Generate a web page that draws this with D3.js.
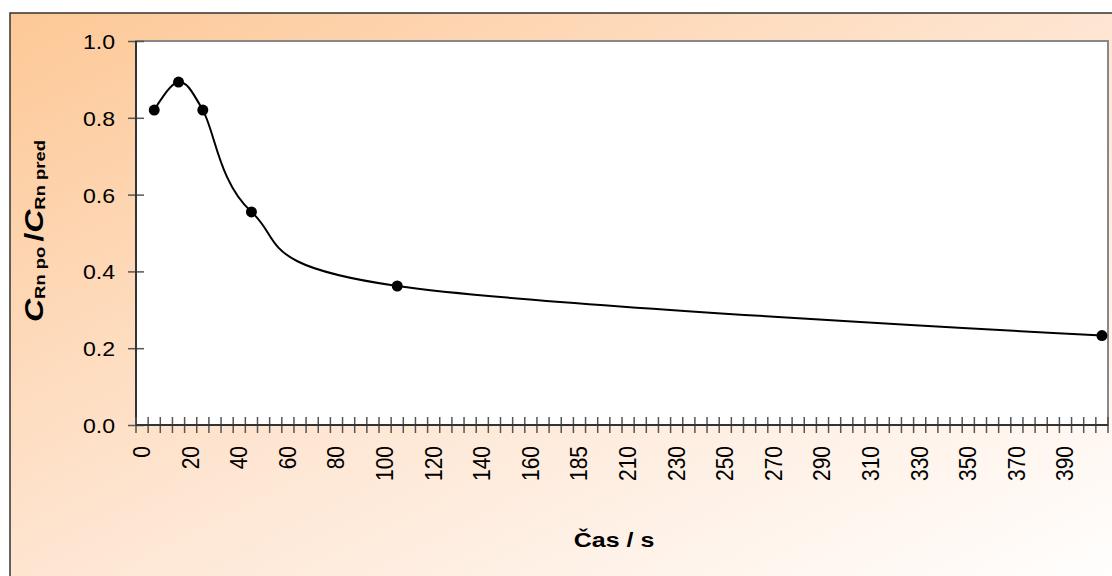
<!DOCTYPE html>
<html>
<head>
<meta charset="utf-8">
<script src="https://cdn.jsdelivr.net/npm/d3@7"></script>
<style>
	body { margin: 0; background: #fff; }
	svg { display: block; font-family: "Liberation Sans", Arial, sans-serif; }
</style>
</head>
<body>
<svg id="chart" width="1112" height="576"></svg>
<script>
// categories on the x axis (one per 5 s, a few steps are skipped in the source sheet)
var categories = [0,5,10,15,20,25,30,35,40,45,50,55,60,65,70,75,80,85,90,95,100,
	105,110,115,120,125,130,135,140,145,150,155,160,165,170,175,185,190,195,200,
	210,215,220,225,230,235,240,245,250,255,260,265,270,275,280,285,290,295,300,
	305,310,315,320,325,330,335,340,345,350,355,360,365,370,375,380,385,390,395,400,405];
// measured points
var times = [5, 15, 25, 45, 105, 405];
var ratios = [0.82, 0.893, 0.82, 0.555, 0.362, 0.233];
var yTicks = [0, 0.2, 0.4, 0.6, 0.8, 1.0];

var svg = d3.select("#chart"),
	plotL = 136, plotR = 1108, plotT = 41, plotB = 425;

var x = d3.scaleBand()
	.domain(categories)
	.range([plotL, plotR])
	.padding(0);
var y = d3.scaleLinear()
	.domain([0, 1])
	.range([plotB, plotT]);

//background panel with diagonal gradient
var grad = svg.append("defs").append("linearGradient")
	.attr("id", "bg")
	.attr("x1", 0).attr("y1", 0)
	.attr("x2", 1).attr("y2", 1);
grad.append("stop").attr("offset", 0).attr("stop-color", "#fdc896");
grad.append("stop").attr("offset", 0.5).attr("stop-color", "#fee6d3");
grad.append("stop").attr("offset", 1).attr("stop-color", "#ffffff");

svg.append("rect")
	.attr("x", 10).attr("y", 13)
	.attr("width", 1125).attr("height", 580)
	.attr("fill", "url(#bg)")
	.attr("stroke", "#333")
	.attr("stroke-width", 1.5);

//plot area
svg.append("rect")
	.attr("x", plotL).attr("y", plotT)
	.attr("width", plotR - plotL).attr("height", plotB - plotT)
	.attr("fill", "#fff")
	.attr("stroke", "#888")
	.attr("stroke-width", 2);

//y axis
var yAxis = svg.append("g")
	.attr("transform", "translate(" + plotL + ",0)")
	.call(d3.axisLeft(y)
		.tickValues(yTicks)
		.tickSize(0)
		.tickFormat(d3.format(".1f")));
yAxis.select(".domain").remove();
yAxis.selectAll(".tick line").remove();
yAxis.selectAll(".tick").append("line")
	.attr("x1", -8).attr("x2", 8)
	.attr("stroke", "#555")
	.attr("stroke-width", 1.5);
yAxis.selectAll(".tick text")
	.attr("x", null).attr("dy", null)
	.attr("fill", "#000")
	.style("font-size", "21px")
	.style("font-family", "Liberation Sans, Arial, sans-serif")
	.attr("text-anchor", "end")
	.attr("transform", "translate(-21,7.5) scale(1.1,1)");
svg.append("line")
	.attr("x1", plotL).attr("x2", plotL)
	.attr("y1", plotT).attr("y2", plotB)
	.attr("stroke", "#333")
	.attr("stroke-width", 2);

//x axis, ticks between categories
var bw = x.bandwidth();
svg.append("g").selectAll("line")
	.data(d3.range(categories.length + 1))
	.enter()
	.append("line")
	.attr("x1", function(i) { return plotL + i * bw; })
	.attr("x2", function(i) { return plotL + i * bw; })
	.attr("y1", plotB - 8)
	.attr("y2", plotB + 8)
	.attr("stroke", "#555")
	.attr("stroke-width", 1.5);
svg.append("line")
	.attr("x1", plotL).attr("x2", plotR)
	.attr("y1", plotB).attr("y2", plotB)
	.attr("stroke", "#333")
	.attr("stroke-width", 2);
svg.append("g").selectAll("text")
	.data(categories.filter(function(d, i) { return i % 4 === 0; }))
	.enter()
	.append("text")
	.attr("text-anchor", "end")
	.style("font-size", "21px")
	.attr("transform", function(d) {
		var cx = x(d) + bw / 2 + 8;
		return "translate(" + cx + ",446) scale(1.12,1) rotate(-90)";
	})
	.text(function(d) { return d; });

//smoothed line and markers
var pts = times.map(function(t, i) { return [x(t) + bw / 2, y(ratios[i])]; });
svg.append("path")
	.attr("d", d3.line().curve(d3.curveCardinal.tension(0))(pts))
	.attr("fill", "none")
	.attr("stroke", "#000")
	.attr("stroke-width", 2);
svg.append("g").selectAll("circle")
	.data(pts)
	.enter()
	.append("circle")
	.attr("cx", function(d) { return d[0]; })
	.attr("cy", function(d) { return d[1]; })
	.attr("r", 5.5)
	.attr("fill", "#000");

//axis titles
svg.append("text")
	.attr("text-anchor", "middle")
	.attr("transform", "translate(614,547) scale(1.25,1)")
	.style("font-size", "20px")
	.style("font-weight", "bold")
	.text("Čas / s");

var yt = svg.append("text")
	.attr("text-anchor", "middle")
	.style("font-weight", "bold");
yt.append("tspan").style("font-size", "26px").style("font-style", "italic").text("C");
yt.append("tspan").style("font-size", "15px").attr("dy", 2).text("Rn po ");
yt.append("tspan").style("font-size", "26px").attr("dy", -2).text("/");
yt.append("tspan").style("font-size", "26px").style("font-style", "italic").text("C");
yt.append("tspan").style("font-size", "15px").attr("dy", 2).text("Rn pred");
var len = yt.node().getComputedTextLength();
yt.attr("transform", "translate(43,231) scale(1," + (182 / len) + ") rotate(-90)");
</script>
</body>
</html>
